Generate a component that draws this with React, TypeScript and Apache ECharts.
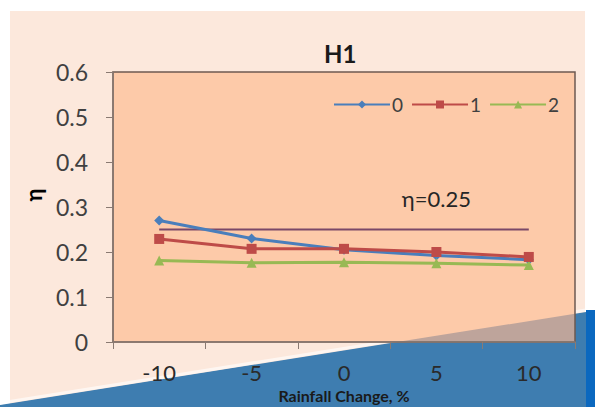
import React, { useEffect, useRef } from "react";
import * as echarts from "echarts";

const categories = ["-10", "-5", "0", "5", "10"];
const seriesNames = ["0", "1", "2"];
const values0 = [0.27, 0.23, 0.205, 0.192, 0.183];
const values1 = [0.229, 0.207, 0.207, 0.2, 0.189];
const values2 = [0.181, 0.176, 0.177, 0.175, 0.171];
const threshold = [0.25, 0.25, 0.25, 0.25, 0.25];
const thresholdLabel = "η=0.25";
const yTicks = { min: 0, max: 0.6, interval: 0.1 };

const FONT = "Lato, 'Open Sans', sans-serif";

export default function App() {
  const ref = useRef<HTMLDivElement>(null);
  useEffect(() => {
    if (!ref.current) return;
    const chart = echarts.init(ref.current, undefined, { renderer: "svg" });
    const gl = 113, gt = 72, gw = 462, gh = 270;
    const edge = (x: number) => 405 - 0.1587 * x;
    const xEnter = (405 - (gt + gh)) / 0.1587;
    const option: any = {
      animation: false,
      backgroundColor: "#ffffff",
      textStyle: { fontFamily: FONT },
      title: {
        text: "H1",
        left: 319,
        top: 36,
        textStyle: { fontFamily: FONT, fontSize: 24, fontWeight: "bold", color: "#1a1a1a" },
      },
      legend: {
        data: seriesNames,
        left: 328,
        top: 90,
        itemWidth: 56,
        itemHeight: 10,
        itemGap: 8,
        textStyle: { fontFamily: FONT, fontSize: 19, color: "#404040", padding: [0, 0, 0, -3] },
      },
      grid: {
        left: gl,
        top: gt,
        width: gw,
        height: gh,
        show: true,
        containLabel: false,
        outerBoundsMode: "none",
        backgroundColor: "transparent",
        borderColor: "#6e5a52",
        borderWidth: 1.5,
        z: 1,
      },
      graphic: [
        { type: "rect", z: -20, shape: { x: 10, y: 11, width: 575, height: 396 }, style: { fill: "#fce8dc" } },
        {
          type: "polygon",
          z: -19,
          shape: { points: [[0, edge(0)], [586, edge(586)], [586, 407], [0, 407]] },
          style: { fill: "#3e7db0" },
        },
        {
          type: "polyline",
          z: -18,
          shape: { points: [[0, edge(0) - 2], [586, edge(586) - 2]] },
          style: { stroke: "rgba(255,255,255,0.6)", lineWidth: 3, fill: null },
        },
        { type: "rect", z: -18, shape: { x: 586, y: 310, width: 9, height: 97 }, style: { fill: "#0b68bf" } },
        { type: "rect", z: -17, shape: { x: gl, y: gt, width: gw, height: gh }, style: { fill: "#fdcaa9" } },
        {
          type: "polygon",
          z: -16,
          shape: { points: [[xEnter, gt + gh], [gl + gw, edge(gl + gw)], [gl + gw, gt + gh]] },
          style: { fill: "#bea49b" },
        },
      ],
      xAxis: {
        type: "category",
        data: categories,
        boundaryGap: true,
        z: 5,
        name: "Rainfall Change, %",
        nameLocation: "middle",
        nameGap: 44,
        nameTextStyle: { fontFamily: FONT, fontSize: 16, fontWeight: "bold", color: "#1a1a1a", lineHeight: 16 },
        axisLine: { lineStyle: { color: "#8a7a72", width: 1.5 } },
        axisTick: { show: true, length: 7, lineStyle: { color: "#8a7a72" } },
        axisLabel: { fontFamily: FONT, fontSize: 22, color: "#2a2a2a", margin: 19 },
        splitLine: { show: false },
      },
      yAxis: {
        type: "value",
        min: yTicks.min,
        max: yTicks.max,
        interval: yTicks.interval,
        z: 5,
        name: "η",
        nameLocation: "middle",
        nameGap: 55,
        nameRotate: 90,
        nameTextStyle: { fontFamily: FONT, fontSize: 22, fontWeight: "bold", color: "#000", padding: [0, 0, 0, 24] },
        axisLine: { show: true, lineStyle: { color: "#8a7a72", width: 1.5 } },
        axisTick: { show: true, length: 7, lineStyle: { color: "#8a7a72" } },
        axisLabel: { fontFamily: FONT, fontSize: 23, color: "#404040", margin: 25 },
        splitLine: { show: false },
      },
      series: [
        {
          name: "η=0.25",
          type: "line",
          data: threshold.map((v, i) =>
            i === 3
              ? {
                  value: v,
                  label: {
                    show: true,
                    formatter: thresholdLabel,
                    position: "top",
                    distance: 20,
                    fontFamily: FONT,
                    fontSize: 22,
                    color: "#262626",
                  },
                }
              : v
          ),
          showSymbol: true,
          symbol: "circle",
          symbolSize: 0,
          itemStyle: { color: "#7a4868" },
          lineStyle: { color: "#7a4868", width: 2 },
          z: 2,
        },
        {
          name: "0",
          type: "line",
          data: values0,
          symbol: "diamond",
          symbolSize: 10,
          itemStyle: { color: "#4a7ebb" },
          lineStyle: { color: "#4a7ebb", width: 3 },
          z: 3,
        },
        {
          name: "1",
          type: "line",
          data: values1,
          symbol: "rect",
          symbolSize: 10,
          itemStyle: { color: "#be4b48" },
          lineStyle: { color: "#be4b48", width: 3 },
          z: 4,
        },
        {
          name: "2",
          type: "line",
          data: values2,
          symbol: "triangle",
          symbolSize: 10,
          itemStyle: { color: "#98b954" },
          lineStyle: { color: "#98b954", width: 3 },
          z: 3,
        },
      ],
    };
    chart.setOption(option);
    return () => chart.dispose();
  }, []);
  return (
    <div
      ref={ref}
      style={{ position: "fixed", left: 0, top: 0, width: 595, height: 407 }}
    />
  );
}
